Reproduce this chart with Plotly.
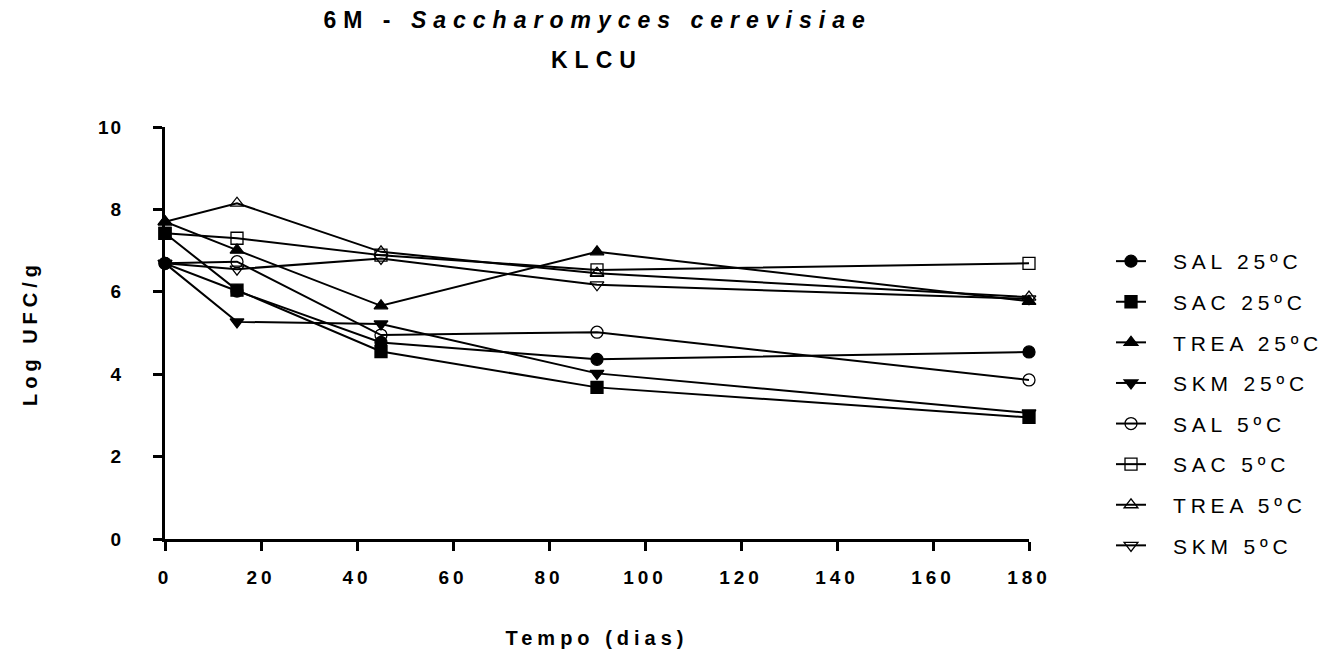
import plotly.graph_objects as go

dias = [0, 15, 45, 90, 180]

series_names = ["SAL 25ºC", "SAC 25ºC", "TREA 25ºC", "SKM 25ºC",
                "SAL 5ºC", "SAC 5ºC", "TREA 5ºC", "SKM 5ºC"]

sal_25 = [6.69, 6.02, 4.77, 4.36, 4.54]
sac_25 = [7.42, 6.04, 4.55, 3.68, 2.95]
trea_25 = [7.70, 7.01, 5.66, 6.97, 5.77]
skm_25 = [6.69, 5.27, 5.22, 4.02, 3.06]
sal_5 = [6.69, 6.73, 4.95, 5.02, 3.86]
sac_5 = [7.42, 7.30, 6.89, 6.53, 6.69]
trea_5 = [7.70, 8.15, 6.97, 6.45, 5.87]
skm_5 = [6.69, 6.55, 6.81, 6.17, 5.83]

values = [sal_25, sac_25, trea_25, skm_25, sal_5, sac_5, trea_5, skm_5]
symbols = ["circle", "square", "triangle-up", "triangle-down",
           "circle-open", "square-open", "triangle-up-open", "triangle-down-open"]

x_ticks = [0, 20, 40, 60, 80, 100, 120, 140, 160, 180]
y_ticks = [0, 2, 4, 6, 8, 10]

FONT = "Liberation Sans, Arial, sans-serif"

fig = go.Figure()
for i, (name, vals, sym) in enumerate(zip(series_names, values, symbols)):
    fig.add_trace(go.Scatter(
        x=dias, y=vals, name=name, mode="lines+markers",
        legendgroup=f"g{i}",
        line=dict(color="black", width=2),
        marker=dict(symbol=sym, size=12, color="black",
                    line=dict(color="black", width=1.3)),
        cliponaxis=False,
    ))

L, R, T, B = 165, 1029, 127, 539
W, H = 1324, 655
ph = B - T


def py(px):
    return (B - px) / ph


def pxx(px):
    return (px - L) / (R - L)


fig.update_layout(
    width=W, height=H,
    margin=dict(l=L, r=W - R, t=T, b=H - B, autoexpand=False),
    plot_bgcolor="white", paper_bgcolor="white",
    font=dict(family=FONT, color="black"),
    showlegend=True,
    legend=dict(
        x=pxx(1111), xanchor="left",
        y=py(241), yanchor="top",
        font=dict(size=21, family=FONT, color="black"),
        tracegroupgap=10.3,
        bgcolor="rgba(0,0,0,0)",
        itemwidth=30,
    ),
    annotations=[
        dict(text="<b>6M - <i>Saccharomyces cerevisiae</i></b>", x=0.5, xref="paper",
             y=py(20), yref="paper", xanchor="center", yanchor="middle",
             showarrow=False, font=dict(size=23, family=FONT, color="black")),
        dict(text="<b>KLCU</b>", x=0.5, xref="paper",
             y=py(60), yref="paper", xanchor="center", yanchor="middle",
             showarrow=False, font=dict(size=23, family=FONT, color="black")),
    ],
)

fig.update_xaxes(
    range=[0, 180], tickvals=x_ticks, ticktext=[str(v) for v in x_ticks],
    showgrid=False, zeroline=False,
    showline=True, linecolor="black", linewidth=3,
    ticks="outside", ticklen=9, tickwidth=3, tickcolor="black",
    tickfont=dict(size=19, family=FONT, color="black", weight="bold"),
    ticklabelstandoff=10,
    title=dict(text="<b>Tempo (dias)</b>", font=dict(size=20, family=FONT, color="black"),
               standoff=45),
)
fig.update_yaxes(
    range=[0, 10], tickvals=y_ticks, ticktext=[str(v) for v in y_ticks],
    showgrid=False, zeroline=False,
    showline=True, linecolor="black", linewidth=3,
    ticks="outside", ticklen=9, tickwidth=3, tickcolor="black",
    tickfont=dict(size=19, family=FONT, color="black", weight="bold"),
    ticklabelstandoff=26,
    title=dict(text="<b>Log UFC/g</b>", font=dict(size=20, family=FONT, color="black"),
               standoff=60),
)

post = """
var st = document.createElement('style');
st.innerHTML = '.annotation-text{letter-spacing:7px;} .xtick text{letter-spacing:4px;} .ytick text{letter-spacing:2px;} .legendtext{letter-spacing:4.8px;transform:translateX(22px);} .xtitle,.ytitle{letter-spacing:5px;}';
document.head.appendChild(st);
document.querySelectorAll('.legend .scrollbox').forEach(function(e){e.removeAttribute('clip-path');});
document.querySelectorAll('.legend').forEach(function(e){e.removeAttribute('clip-path');});
"""

fig.write_html("out.html", post_script=post)
